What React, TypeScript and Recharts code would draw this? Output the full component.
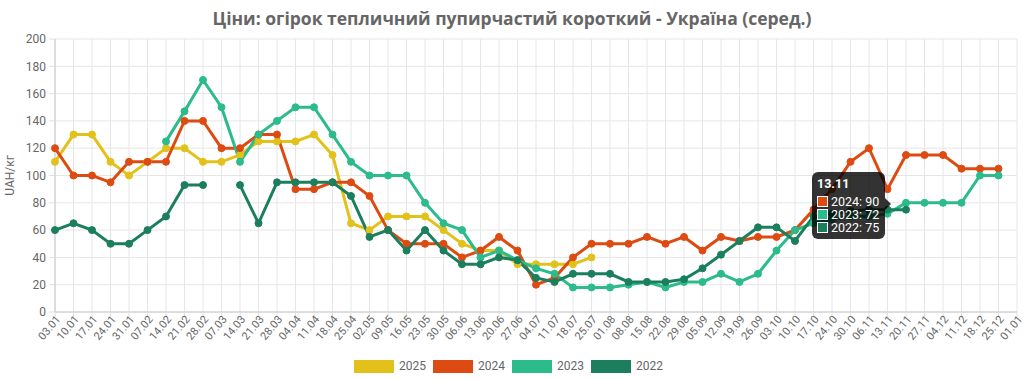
import React from 'react';
import { LineChart, Line, XAxis, YAxis, CartesianGrid, Tooltip, Legend } from 'recharts';

const dates = [
  '03.01', '10.01', '17.01', '24.01', '31.01', '07.02', '14.02', '21.02', '28.02', '07.03',
  '14.03', '21.03', '28.03', '04.04', '11.04', '18.04', '25.04', '02.05', '09.05', '16.05',
  '23.05', '30.05', '06.06', '13.06', '20.06', '27.06', '04.07', '11.07', '18.07', '25.07',
  '01.08', '08.08', '15.08', '22.08', '29.08', '05.09', '12.09', '19.09', '26.09', '03.10',
  '10.10', '17.10', '24.10', '30.10', '06.11', '13.11', '20.11', '27.11', '04.12', '11.12',
  '18.12', '25.12', '01.01',
];

const prices2025 = [
  110, 130, 130, 110, 100, 110, 120, 120, 110, 110,
  115, 125, 125, 125, 130, 115, 65, 60, 70, 70,
  70, 60, 50, 45, 45, 35, 35, 35, 35, 40,
  null, null, null, null, null, null, null, null, null, null,
  null, null, null, null, null, null, null, null, null, null,
  null, null, null,
];

const prices2024 = [
  120, 100, 100, 95, 110, 110, 110, 140, 140, 120,
  120, 130, 130, 90, 90, 95, 95, 85, 60, 50,
  50, 50, 40, 45, 55, 45, 20, 25, 40, 50,
  50, 50, 55, 50, 55, 45, 55, 52, 55, 55,
  60, 75, 90, 110, 120, 90, 115, 115, 115, 105,
  105, 105, null,
];

const prices2023 = [
  null, null, null, null, null, null, 125, 147, 170, 150,
  110, 130, 140, 150, 150, 130, 110, 100, 100, 100,
  80, 65, 60, 40, 45, 38, 32, 28, 18, 18,
  18, 20, 22, 18, 22, 22, 28, 22, 28, 45,
  60, 65, 68, 70, 70, 72, 80, 80, 80, 80,
  100, 100, null,
];

const prices2022 = [
  60, 65, 60, 50, 50, 60, 70, 93, 93, null,
  93, 65, 95, 95, 95, 95, 85, 55, 60, 45,
  60, 45, 35, 35, 40, 38, 25, 22, 28, 28,
  28, 22, 22, 22, 24, 32, 42, 52, 62, 62,
  52, 70, 72, 74, 75, 75, 75, null, null, null,
  null, null, null,
];

const yTicks = [0, 20, 40, 60, 80, 100, 120, 140, 160, 180, 200];

const seriesList = [
  { key: '2025', color: '#e3c11b', values: prices2025 },
  { key: '2024', color: '#dd4b12', values: prices2024 },
  { key: '2023', color: '#2cbb8a', values: prices2023 },
  { key: '2022', color: '#1b7f5d', values: prices2022 },
];

const chartData = dates.map((date, i) => {
  const row: Record<string, string | number | null> = { date };
  seriesList.forEach((s) => {
    row[s.key] = s.values[i];
  });
  return row;
});

const DateTick = ({ x, y, payload }: any) => (
  <g transform={`translate(${x + 3},${y - 2})`}>
    <text
      x={0}
      y={0}
      dy={4}
      textAnchor="end"
      transform="rotate(-50)"
      fill="#666"
      fontSize={11}
      fontFamily="Roboto"
    >
      {payload.value}
    </text>
  </g>
);

const LegendContent = () => (
  <div
    style={{
      display: 'flex',
      justifyContent: 'center',
      height: 26,
      paddingLeft: 7,
      boxSizing: 'border-box',
      fontFamily: 'Roboto',
    }}
  >
    {seriesList.map((s) => (
      <div key={s.key} style={{ display: 'flex', alignItems: 'center', marginRight: 7 }}>
        <span style={{ display: 'inline-block', width: 40, height: 13, background: s.color }} />
        <span style={{ marginLeft: 5, fontSize: 12, color: '#666' }}>{s.key}</span>
      </div>
    ))}
  </div>
);

const TipContent = ({ active, payload, label }: any) => {
  if (!active || !payload) return null;
  const rows = payload.filter((p: any) => p.value != null && p.dataKey !== '2025');
  return (
    <div
      style={{
        position: 'relative',
        background: 'rgba(0,0,0,0.8)',
        borderRadius: 6,
        padding: '5px 6px 5px 5px',
        color: '#fff',
        fontFamily: 'Roboto',
        fontSize: 12.5,
        lineHeight: '13px',
      }}
    >
      <div style={{ fontWeight: 700, marginBottom: 5 }}>{label}</div>
      {rows.map((p: any) => (
        <div key={p.dataKey} style={{ display: 'flex', alignItems: 'center', height: 13 }}>
          <span
            style={{
              display: 'inline-block',
              width: 9,
              height: 9,
              background: p.color,
              border: '1px solid #fff',
              marginRight: 3,
            }}
          />
          <span>{`${p.dataKey}: ${p.value}`}</span>
        </div>
      ))}
      <div
        style={{
          position: 'absolute',
          right: -6,
          top: 26,
          width: 0,
          height: 0,
          borderTop: '6px solid transparent',
          borderBottom: '6px solid transparent',
          borderLeft: '6px solid rgba(0,0,0,0.8)',
        }}
      />
    </div>
  );
};

export default function App() {
  return (
    <div style={{ position: 'absolute', left: 0, top: 0, width: 1024, height: 379, background: '#fff' }}>
      <div
        style={{
          position: 'absolute',
          top: 6,
          left: 0,
          width: 1024,
          textAlign: 'center',
          fontFamily: 'Open Sans',
          fontWeight: 700,
          fontSize: 17.5,
          color: '#666',
        }}
      >
        Ціни: огірок тепличний пупирчастий короткий - Україна (серед.)
      </div>
      <LineChart
        width={1024}
        height={379}
        data={chartData}
        margin={{ top: 39, right: 7, left: 0, bottom: 0 }}
      >
        <CartesianGrid stroke="#e6e6e6" />
        <XAxis
          dataKey="date"
          interval={0}
          height={41}
          tick={<DateTick />}
          tickSize={5}
          tickMargin={2}
          axisLine={{ stroke: '#c8c8c8' }}
          tickLine={{ stroke: '#e0e0e0' }}
        />
        <YAxis
          width={55}
          domain={[0, 200]}
          ticks={yTicks}
          interval={0}
          tick={{ fill: '#666', fontSize: 12, fontFamily: 'Roboto' }}
          tickSize={6}
          tickMargin={3}
          axisLine={{ stroke: '#c8c8c8' }}
          tickLine={{ stroke: '#e0e0e0' }}
          label={{
            value: 'UAH/кг',
            angle: -90,
            position: 'insideLeft',
            offset: 10,
            fill: '#666',
            fontSize: 12,
            fontFamily: 'Roboto',
            style: { textAnchor: 'middle' },
          }}
        />
        <Tooltip
          content={<TipContent />}
          defaultIndex={45}
          active={true}
          position={{ x: 812, y: 172 }}
          cursor={false}
          isAnimationActive={false}
        />
        <Legend verticalAlign="bottom" content={<LegendContent />} />
        {seriesList.map((s) => (
          <Line
            key={s.key}
            type="linear"
            dataKey={s.key}
            stroke={s.color}
            strokeWidth={3}
            dot={{ r: 3.5, fill: s.color, stroke: s.color, strokeWidth: 1 }}
            activeDot={false}
            isAnimationActive={false}
          />
        ))}
      </LineChart>
    </div>
  );
}
